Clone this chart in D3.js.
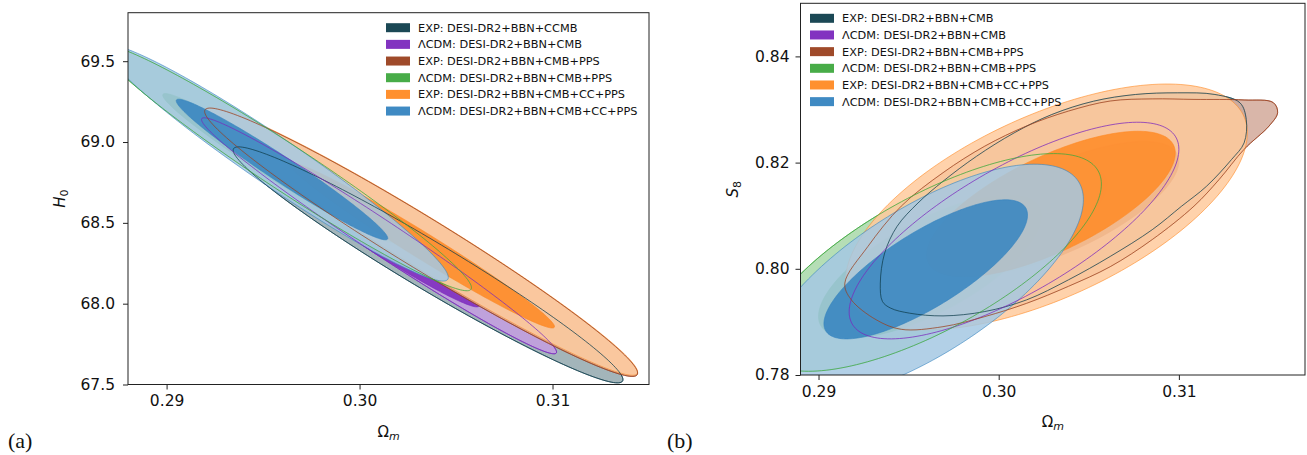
<!DOCTYPE html>
<html>
<head>
<meta charset="utf-8">
<script src="https://cdn.jsdelivr.net/npm/d3@7"></script>
<style>
  body { margin: 0; background: #fff; }
  svg text { font-family: "DejaVu Sans", sans-serif; fill: #111; }
</style>
</head>
<body>
<svg id="fig" width="1307" height="455"></svg>
<script>
// ---- data ----
const seriesColors = ["#0f3e4c", "#7b28bd", "#9a401f", "#3ea83e", "#ff8a24", "#3584c0"];
const legendA = ["EXP: DESI-DR2+BBN+CCMB", "ΛCDM: DESI-DR2+BBN+CMB", "EXP: DESI-DR2+BBN+CMB+PPS",
                 "ΛCDM: DESI-DR2+BBN+CMB+PPS", "EXP: DESI-DR2+BBN+CMB+CC+PPS", "ΛCDM: DESI-DR2+BBN+CMB+CC+PPS"];
const legendB = ["EXP: DESI-DR2+BBN+CMB", "ΛCDM: DESI-DR2+BBN+CMB", "EXP: DESI-DR2+BBN+CMB+PPS",
                 "ΛCDM: DESI-DR2+BBN+CMB+PPS", "EXP: DESI-DR2+BBN+CMB+CC+PPS", "ΛCDM: DESI-DR2+BBN+CMB+CC+PPS"];

const omTicksA = [0.29, 0.30, 0.31];
const h0Ticks = [67.5, 68.0, 68.5, 69.0, 69.5];
const omTicksB = [0.29, 0.30, 0.31];
const s8Ticks = [0.78, 0.80, 0.82, 0.84];

// elliptical contours as [mean Om, mean y, half-width Om, half-height y, correlation]
const h0Outer = [
  [0.30355, 68.240, 0.0101, 0.730, -0.972],
  [0.30101, 68.420, 0.0092, 0.730, -0.985],
  [0.30319, 68.380, 0.01122, 0.830, -0.975],
  [0.29620, 68.840, 0.0096, 0.760, -0.975],
  [0.30322, 68.385, 0.01119, 0.828, -0.976],
  [0.29570, 68.870, 0.0089, 0.730, -0.969]
];
const h0Inner = [
  [0.29950, 68.580, 0.0055, 0.400, -0.985],
  [0.30000, 68.470, 0.0062, 0.490, -0.980],
  [0.30320, 68.360, 0.0069, 0.510, -0.983],
  [0.29580, 68.840, 0.0060, 0.460, -0.978],
  [0.30325, 68.360, 0.00685, 0.510, -0.983],
  [0.29598, 68.830, 0.00548, 0.435, -0.977]
];
// non-elliptical outer contours in the S8 panel: outline points [Om, S8]
const tealS8Outline = [
  [0.29355, 0.79384], [0.29343, 0.79730], [0.29367, 0.80296], [0.29436, 0.80799], [0.29552, 0.81239],
  [0.29691, 0.81648], [0.29877, 0.82119], [0.30086, 0.82560], [0.30295, 0.82906], [0.30527, 0.83157],
  [0.30759, 0.83283], [0.30991, 0.83314], [0.31200, 0.83283], [0.31339, 0.83126], [0.31374, 0.82811],
  [0.31362, 0.82371], [0.31292, 0.82057], [0.31153, 0.81553], [0.31014, 0.81176], [0.30852, 0.80736],
  [0.30619, 0.80233], [0.30387, 0.79792], [0.30155, 0.79415], [0.29923, 0.79195], [0.29691, 0.79113],
  [0.29506, 0.79164], [0.29401, 0.79258]
];
const brownS8Outline = [
  [0.29146, 0.7973], [0.29274, 0.8042], [0.29459, 0.8118], [0.29691, 0.8181], [0.29923, 0.8231],
  [0.30155, 0.8269], [0.30387, 0.8297], [0.30619, 0.8316], [0.30852, 0.8320], [0.31084, 0.8319],
  [0.31362, 0.8318], [0.31524, 0.8313], [0.31548, 0.8294], [0.31501, 0.8269], [0.31362, 0.8225],
  [0.31223, 0.8168], [0.31084, 0.8118], [0.30852, 0.8055], [0.30619, 0.8004], [0.30387, 0.7967],
  [0.30155, 0.7935], [0.29923, 0.7910], [0.29691, 0.7891], [0.29459, 0.7886], [0.29320, 0.7904],
  [0.29181, 0.7942]
];
const s8Outer = [
  tealS8Outline,
  [0.30085, 0.8072, 0.00915, 0.0204, 0.75],
  brownS8Outline,
  [0.29625, 0.8012, 0.00945, 0.0205, 0.72],
  [0.30265, 0.81165, 0.01115, 0.02315, 0.60],
  [0.29570, 0.7975, 0.0090, 0.0222, 0.70]
];
const s8Inner = [
  [0.30300, 0.8118, 0.0060, 0.0125, 0.70],
  [0.30050, 0.8070, 0.0055, 0.0120, 0.75],
  [0.30350, 0.8115, 0.0065, 0.0125, 0.70],
  [0.29620, 0.8005, 0.0062, 0.0135, 0.70],
  [0.30290, 0.8122, 0.0069, 0.0137, 0.70],
  [0.29595, 0.7999, 0.00565, 0.0131, 0.78]
];

// ---- drawing ----
const svg = d3.select("#fig");

function ellipsePts(e) {
  const [cx, cy, hx, hy, r] = e;
  const s = Math.sqrt(1 - r * r);
  return d3.range(0, 181).map(i => {
    const t = i / 180 * 2 * Math.PI;
    return [cx + hx * Math.cos(t), cy + hy * (r * Math.cos(t) + s * Math.sin(t))];
  });
}

const panels = [
  { key: "a", xDomain: [0.288, 0.315], yDomain: [67.5, 69.8], x0: 128, x1: 649, y0: 12.7, y1: 384.5,
    xTicks: omTicksA, yTicks: h0Ticks, yFmt: ".1f", yPad: 8,
    outer: h0Outer, inner: h0Inner, legend: legendA, legX: 386, legY: 27.7,
    yLabel: ["H", "0"], yLabelX: 65, tag: "(a)", tagX: 8 },
  { key: "b", xDomain: [0.289, 0.317], yDomain: [0.78, 0.85], x0: 800.5, x1: 1305, y0: 3.3, y1: 375,
    xTicks: omTicksB, yTicks: s8Ticks, yFmt: ".2f", yPad: 6,
    outer: s8Outer, inner: s8Inner, legend: legendB, legX: 810, legY: 18.3,
    yLabel: ["S", "8"], yLabelX: 738, tag: "(b)", tagX: 667 }
];

panels.forEach(p => {
  const x = d3.scaleLinear().domain(p.xDomain).range([p.x0, p.x1]);
  const y = d3.scaleLinear().domain(p.yDomain).range([p.y1, p.y0]);
  const line = d3.line().x(d => x(d[0])).y(d => y(d[1])).curve(d3.curveLinearClosed);
  const smooth = d3.line().x(d => x(d[0])).y(d => y(d[1])).curve(d3.curveCatmullRomClosed);
  // a contour is either an ellipse spec or a list of traced points
  const contour = c => (Array.isArray(c[0]) ? smooth(c) : line(ellipsePts(c)));

  svg.append("clipPath").attr("id", "clip-" + p.key)
    .append("rect").attr("x", p.x0).attr("y", p.y0)
    .attr("width", p.x1 - p.x0).attr("height", p.y1 - p.y0);

  const g = svg.append("g").attr("clip-path", `url(#clip-${p.key})`);

  seriesColors.forEach((c, i) => {
    const light = d3.interpolateRgb(c, "#ffffff")(0.55);
    g.append("path").attr("d", contour(p.outer[i]))
      .attr("fill", light).attr("fill-opacity", 0.85)
      .attr("stroke", c).attr("stroke-width", 1).attr("stroke-opacity", 0.6);
    g.append("path").attr("d", contour(p.inner[i]))
      .attr("fill", c).attr("fill-opacity", 0.85)
      .attr("stroke", c).attr("stroke-width", 1).attr("stroke-opacity", 0.6);
  });

  // outlines of the earlier series stay visible on top
  seriesColors.slice(0, 4).forEach((c, i) => {
    g.append("path").attr("d", contour(p.outer[i]))
      .attr("fill", "none").attr("stroke", c).attr("stroke-width", 1).attr("stroke-opacity", 0.75);
  });

  // frame
  svg.append("rect").attr("x", p.x0).attr("y", p.y0)
    .attr("width", p.x1 - p.x0).attr("height", p.y1 - p.y0)
    .attr("fill", "none").attr("stroke", "#222").attr("stroke-width", 1);

  // axes
  const ax = svg.append("g").attr("transform", `translate(0,${p.y1})`)
    .call(d3.axisBottom(x).tickValues(p.xTicks).tickFormat(d3.format(".2f")).tickSize(5).tickPadding(5.5));
  const ay = svg.append("g").attr("transform", `translate(${p.x0},0)`)
    .call(d3.axisLeft(y).tickValues(p.yTicks).tickFormat(d3.format(p.yFmt)).tickSize(5).tickPadding(p.yPad));
  [ax, ay].forEach(a => {
    a.select(".domain").remove();
    a.selectAll("line").attr("stroke", "#222");
    a.selectAll("text").attr("font-size", "15.5px").attr("font-family", "DejaVu Sans").attr("fill", "#111");
  });

  // axis labels
  const xl = svg.append("text").attr("x", (p.x0 + p.x1) / 2).attr("y", p.y1 + 52)
    .attr("text-anchor", "middle").attr("font-size", "15px");
  xl.append("tspan").text("Ω");
  xl.append("tspan").attr("font-style", "italic").attr("font-size", "11px").attr("dy", 3).text("m");

  const yl = svg.append("text")
    .attr("transform", `translate(${p.yLabelX},${(p.y0 + p.y1) / 2}) rotate(-90)`)
    .attr("text-anchor", "middle").attr("font-size", "15px");
  yl.append("tspan").attr("font-style", "italic").text(p.yLabel[0]);
  yl.append("tspan").attr("font-size", "11px").attr("dy", 3).text(p.yLabel[1]);

  // legend
  p.legend.forEach((name, i) => {
    const cy = p.legY + i * 16.67;
    svg.append("rect").attr("x", p.legX).attr("y", cy - 4.5).attr("width", 24).attr("height", 9)
      .attr("fill", seriesColors[i]).attr("fill-opacity", 0.95);
    svg.append("text").attr("x", p.legX + 32).attr("y", cy).attr("dy", "0.35em")
      .attr("font-size", "11.3px").text(name);
  });

  // panel tag (serif, as in the document)
  svg.append("text").attr("x", p.tagX).attr("y", 448)
    .style("font-family", "'Liberation Serif', 'DejaVu Serif', serif").style("font-size", "22px")
    .text(p.tag);
});
</script>
</body>
</html>
